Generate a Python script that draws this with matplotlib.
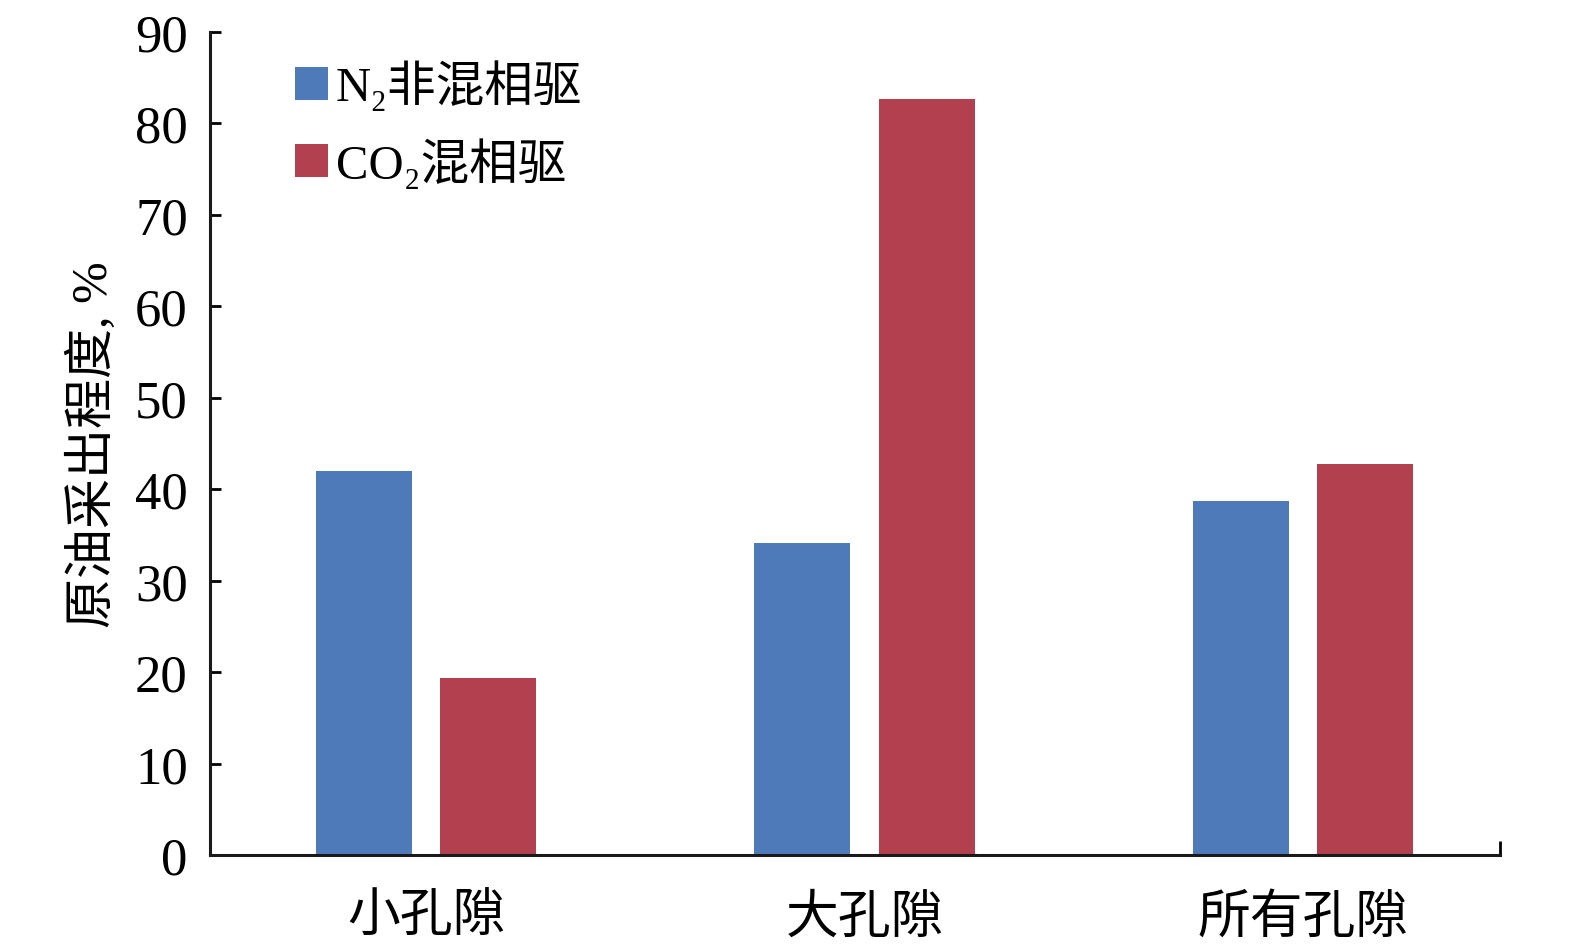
import matplotlib
matplotlib.use("Agg")
import matplotlib.pyplot as plt
import numpy as np

categories = ["小孔隙", "大孔隙", "所有孔隙"]
n2_values = [42.0, 34.1, 38.7]
co2_values = [19.4, 82.7, 42.8]
series_labels = ["N\u2082非混相驱", "CO\u2082混相驱"]
y_ticks = [0, 10, 20, 30, 40, 50, 60, 70, 80, 90]
y_label = "原油采出程度, %"

plt.rcParams['font.family'] = ['Liberation Serif', 'Noto Sans CJK SC', 'DejaVu Sans']

fig = plt.figure(figsize=(15.75, 9.53), dpi=100)
ax = fig.add_axes([210/1575, 97/953, 1290/1575, 823/953])

x = np.arange(len(categories))
w = 0.219
off = 0.142
ax.bar(x - off, n2_values, width=w, color="#4F7AB9", label=series_labels[0])
ax.bar(x + off, co2_values, width=w, color="#B3404F", label=series_labels[1])

xmin, xmax = -0.4926, 2.449
ax.set_xlim(xmin, xmax)
ax.set_ylim(0, 90)
ax.set_yticks(y_ticks)
ax.set_yticklabels([str(t) for t in y_ticks], fontsize=38)
ax.set_xticks(x)
ax.set_xticklabels(categories, fontsize=38)
ax.tick_params(axis='x', which='major', length=0, pad=28)
ax.set_xticks([xmax], minor=True)
ax.tick_params(axis='x', which='minor', direction='in', length=10, width=2)
ax.tick_params(axis='y', direction='in', length=8, width=2, pad=16)

for s in ['top', 'right']:
    ax.spines[s].set_visible(False)
for s in ['left', 'bottom']:
    ax.spines[s].set_linewidth(2.2)
    ax.spines[s].set_color('#1a1a1a')

ax.set_ylabel(y_label, fontsize=36, labelpad=12)

leg = ax.legend(loc='upper left', bbox_to_anchor=(0.051, 0.99), frameon=False,
                fontsize=35, handlelength=0.68, handleheight=0.68,
                handletextpad=0.15, labelspacing=0.55, borderaxespad=0)

fig.savefig("out.png", dpi=100)
